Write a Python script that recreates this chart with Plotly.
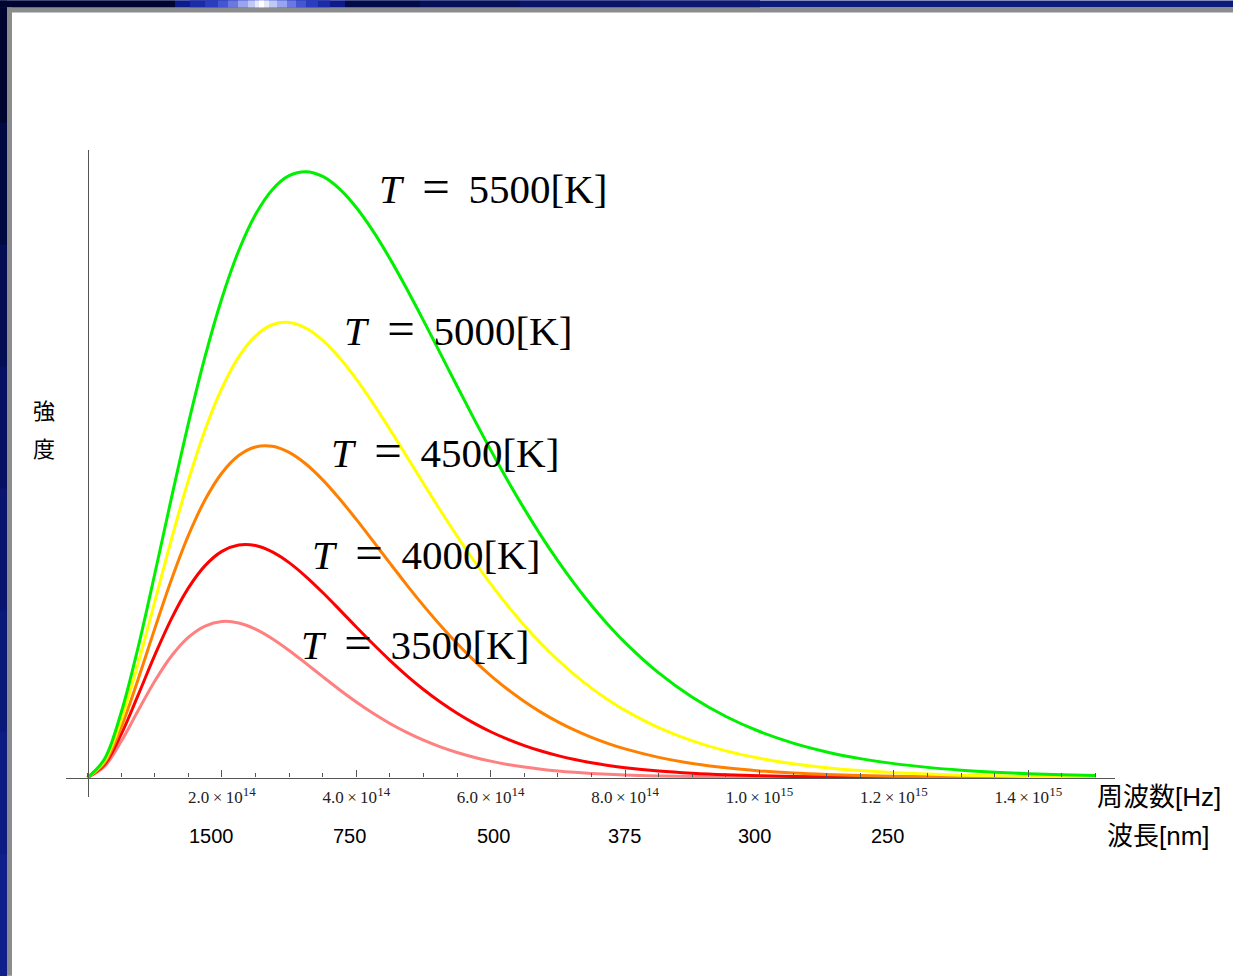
import plotly.graph_objects as go

# ---------------- data ----------------
# frequency in units of 1e14 Hz
freq = [0.0, 0.25, 0.5, 0.75, 1.0, 1.25, 1.5, 1.75, 2.0, 2.25, 2.5, 2.75, 3.0, 3.25, 3.5, 3.75,
        4.0, 4.25, 4.5, 4.75, 5.0, 5.25, 5.5, 5.75, 6.0, 6.25, 6.5, 6.75, 7.0, 7.25, 7.5, 7.75,
        8.0, 8.5, 9.0, 9.5, 10.0, 10.5, 11.0, 11.5, 12.0, 12.5, 13.0, 13.5, 14.0, 14.5, 15.0]

# spectral intensity (arbitrary units)
I_5500 = [0, 0.0945, 0.3370, 0.6732, 1.0584, 1.4571, 1.8417, 2.1924, 2.4956, 2.7431, 2.9316,
          3.0609, 3.1337, 3.1547, 3.1297, 3.0652, 2.9680, 2.8448, 2.7018, 2.5448, 2.3789,
          2.2086, 2.0375, 1.8689, 1.7050, 1.5478, 1.3987, 1.2585, 1.1279, 1.0071, 0.8961,
          0.7947, 0.7027,
          0.5447, 0.4179, 0.3176, 0.2395, 0.1792, 0.1332, 0.0984, 0.0723, 0.0528, 0.0384,
          0.0278, 0.0200, 0.0144, 0.0103]
I_5000 = [0, 0.0850, 0.2993, 0.5901, 0.9151, 1.2416, 1.5457, 1.8108, 2.0273, 2.1904, 2.2997,
          2.3577, 2.3691, 2.3398, 2.2765, 2.1858, 2.0744, 1.9482, 1.8127, 1.6722, 1.5309,
          1.3916, 1.2570, 1.1287, 1.0079, 0.8956, 0.7921, 0.6975, 0.6118, 0.5346, 0.4654,
          0.4039, 0.3495,
          0.2594, 0.1905, 0.1386, 0.1001, 0.0717, 0.0510, 0.0361, 0.0254, 0.0177, 0.0124,
          0.0086, 0.0059, 0.0041, 0.0028]
I_4500 = [0, 0.0754, 0.2616, 0.5077, 0.7740, 1.0312, 1.2593, 1.4461, 1.5856, 1.6765, 1.7213,
          1.7247, 1.6929, 1.6324, 1.5500, 1.4519, 1.3438, 1.2305, 1.1160, 1.0034, 0.8951,
          0.7928, 0.6976, 0.6102, 0.5308, 0.4593, 0.3957, 0.3393, 0.2898, 0.2466, 0.2091,
          0.1767, 0.1489,
          0.1048, 0.0730, 0.0503, 0.0345, 0.0234, 0.0158, 0.0106, 0.0071, 0.0047, 0.0031,
          0.0020, 0.0013, 0.0009, 0.0006]
I_4000 = [0, 0.0659, 0.2242, 0.4263, 0.6357, 0.8274, 0.9859, 1.1032, 1.1774, 1.2107, 1.2079,
          1.1751, 1.1191, 1.0465, 0.9632, 0.8743, 0.7838, 0.6950, 0.6103, 0.5311, 0.4585,
          0.3930, 0.3346, 0.2832, 0.2383, 0.1995, 0.1662, 0.1379, 0.1139, 0.0938, 0.0769,
          0.0629, 0.0512,
          0.0337, 0.0220, 0.0142, 0.0091, 0.0058, 0.0036, 0.0023, 0.0014, 0.0009, 0.0005,
          0.0003, 0.0002, 0.0001, 0.0001]
I_3500 = [0, 0.0563, 0.1871, 0.3462, 0.5015, 0.6328, 0.7296, 0.7888, 0.8122, 0.8048, 0.7728,
          0.7230, 0.6618, 0.5943, 0.5251, 0.4573, 0.3933, 0.3344, 0.2815, 0.2349, 0.1944,
          0.1596, 0.1303, 0.1056, 0.0852, 0.0683, 0.0546, 0.0434, 0.0343, 0.0271, 0.0213,
          0.0167, 0.0130,
          0.0079, 0.0047, 0.0028, 0.0016, 0.0010, 0.0006, 0.0003, 0.0002, 0.0001, 0.0001,
          0.0000, 0.0000, 0.0000, 0.0000]

temperatures = [3500, 4000, 4500, 5000, 5500]

tick_vals = [2, 4, 6, 8, 10, 12, 14]
tick_mantissa = ["2.0", "4.0", "6.0", "8.0", "1.0", "1.2", "1.4"]
tick_exponent = ["14", "14", "14", "14", "15", "15", "15"]

wavelengths_nm = [1500, 750, 500, 375, 300, 250]

# ---------------- styling / layout ----------------
W, H = 1233, 976
PL, PR, PT, PB = 66, 1115, 149.5, 797          # plot area in pixels
X0_PX, X_SCALE = 87.5, 67.2                     # origin pixel, px per 1e14 Hz
Y0_PX, Y_SCALE = 777.5, 192.2                   # baseline pixel, px per unit


def xp(px):
    return (px - PL) / (PR - PL)


def yp(py):
    return (PB - py) / (PB - PT)


series = {3500: I_3500, 4000: I_4000, 4500: I_4500, 5000: I_5000, 5500: I_5500}
colors = {3500: "#ff8080", 4000: "#ff0000", 4500: "#ff8000", 5000: "#ffff00", 5500: "#00f000"}

fig = go.Figure()
for t in temperatures:
    fig.add_trace(go.Scatter(
        x=freq, y=series[t], mode="lines",
        line=dict(color=colors[t], width=3, shape="spline", smoothing=1.0),
        hoverinfo="skip", showlegend=False))

tick_text = [f"{m}&#8201;×&#8201;10<sup><span style='font-size:13px'>{e}</span></sup>"
             for m, e in zip(tick_mantissa, tick_exponent)]

axis_col = "#555555"
fig.update_layout(
    width=W, height=H,
    margin=dict(l=PL, r=W - PR, t=PT, b=H - PB, pad=0),
    paper_bgcolor="white", plot_bgcolor="white",
    showlegend=False,
    xaxis=dict(
        range=[(PL - X0_PX) / X_SCALE, (PR - X0_PX) / X_SCALE],
        anchor="free", position=yp(Y0_PX),
        showgrid=False, zeroline=False,
        showline=True, linecolor=axis_col, linewidth=1.3,
        tickmode="array", tickvals=tick_vals, ticktext=tick_text,
        ticks="inside", ticklen=7, tickwidth=1.2, tickcolor=axis_col,
        ticklabelstandoff=4,
        tickfont=dict(family="Liberation Serif", size=17, color="#222222"),
        minor=dict(tickmode="linear", tick0=0, dtick=0.5, ticks="inside",
                   ticklen=4, tickwidth=1.2, tickcolor=axis_col, showgrid=False),
        fixedrange=True,
    ),
    yaxis=dict(
        range=[(Y0_PX - PB) / Y_SCALE, (Y0_PX - PT) / Y_SCALE],
        anchor="free", position=xp(X0_PX),
        showgrid=False, zeroline=False,
        showline=True, linecolor=axis_col, linewidth=1.3,
        showticklabels=False, ticks="",
        fixedrange=True,
    ),
)

# temperature labels
label_pos = {5500: (377, 186), 5000: (342, 328), 4500: (329, 450), 4000: (310, 552), 3500: (299, 642)}
for t in temperatures:
    px, py = label_pos[t]
    fig.add_annotation(
        x=(px - X0_PX) / X_SCALE, y=(Y0_PX - py) / Y_SCALE, xref="x", yref="y",
        text=(f"<i>T</i>&nbsp;&nbsp;<span style='font-size:49px'>=</span>"
              f"&nbsp;&#8201;{t}[K]"),
        showarrow=False, xanchor="left", yanchor="middle",
        font=dict(family="Liberation Serif", size=41, color="black"))

# wavelength labels under frequency ticks
wl_shift = [-10, -7, 3, -1, -5, -6]
for wl, sh in zip(wavelengths_nm, wl_shift):
    fig.add_annotation(
        x=3000 / wl, y=yp(836), xref="x", yref="paper", xshift=sh,
        text=str(wl), showarrow=False, xanchor="center", yanchor="middle",
        font=dict(family="Liberation Sans", size=20, color="black"))

cjk = "Liberation Sans, Noto Sans CJK JP"
fig.add_annotation(x=xp(1158.5), y=yp(797), xref="paper", yref="paper", text="周波数[Hz]",
                   showarrow=False, xanchor="center", yanchor="middle",
                   font=dict(family=cjk, size=26, color="black"))
fig.add_annotation(x=xp(1158.5), y=yp(836), xref="paper", yref="paper", text="波長[nm]",
                   showarrow=False, xanchor="center", yanchor="middle",
                   font=dict(family=cjk, size=26, color="black"))
for ch, cy in [("強", 411), ("度", 449)]:
    fig.add_annotation(x=xp(44), y=yp(cy), xref="paper", yref="paper", text=ch,
                       showarrow=False, xanchor="center", yanchor="middle",
                       font=dict(family=cjk, size=22, color="black"))

# ---------------- slide frame ----------------
def rect(x0, y0, x1, y1, color):
    fig.add_shape(type="rect", xref="paper", yref="paper",
                  x0=xp(x0), x1=xp(x1), y0=yp(y1), y1=yp(y0),
                  fillcolor=color, line=dict(width=0), layer="below")

# left navy band, darker at the top
left_cols = ["#000530", "#020840", "#040c52", "#061062", "#08146e", "#0a1878", "#0d1c82", "#10208a"]
seg = H / len(left_cols)
for i, c in enumerate(left_cols):
    rect(0, i * seg, 7, (i + 1) * seg + 1, c)
# top band
rect(0, 0, W, 7, "#0c1a7a")
rect(0, 0, 175, 7, "#000530")
for a, b, c in [(345, 420, "#020a48"), (420, 520, "#051058"), (520, 640, "#081468"),
                (640, 760, "#0a1872")]:
    rect(a, 0, b, 7, c)
for a, b, c in [(175, 345, "#0c1a8e"), (190, 330, "#1a2aa8"), (205, 318, "#2a3cc0"),
                (218, 306, "#4656d2"), (228, 296, "#6a78e0"), (238, 287, "#98a4ee"),
                (248, 277, "#c0c8f6"), (255, 269, "#e4e8fc"), (259, 264, "#ffffff")]:
    rect(a, 0, b, 7, c)
# gray border
rect(7, 7, W, 12, "#8a8c8e")
rect(7, 7, 12, H, "#8a8c8e")

fig.write_html("out.html", config={"displayModeBar": False})
